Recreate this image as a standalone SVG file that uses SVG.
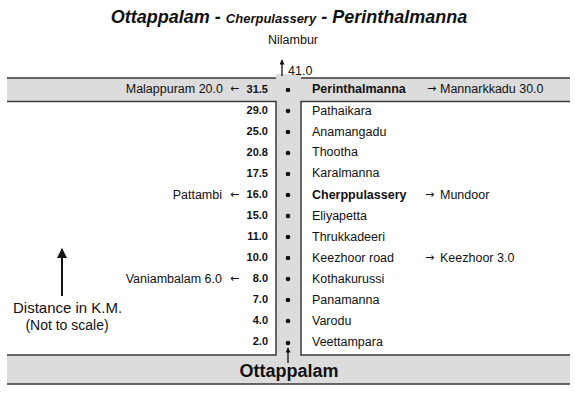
<svg xmlns="http://www.w3.org/2000/svg" width="575" height="398" viewBox="0 0 575 398">
<defs>
<style>
text{font-family:"Liberation Sans",Arial,sans-serif;fill:#111}
.t{font-size:18px;font-weight:bold;font-style:italic}
.ts{font-size:13px;font-weight:bold;font-style:italic}
.km{font-size:11px;font-weight:bold;text-anchor:end}
.nm{font-size:12.5px}
.b{font-weight:bold}
.ar{font-size:11px;font-family:"DejaVu Sans",sans-serif}
.band{fill:#dcdcdc}
.ln{stroke:#3a3a3a;stroke-width:1.5;fill:none}
.dot{fill:#111}
</style>
<marker id="ah" viewBox="0 0 10 10" refX="9" refY="5" markerWidth="6" markerHeight="5" orient="auto" markerUnits="userSpaceOnUse">
<path d="M0,0 L10,5 L0,10 Z" fill="#111"/>
</marker>
<marker id="ahb" viewBox="0 0 10 10" refX="9" refY="5" markerWidth="12" markerHeight="10" orient="auto" markerUnits="userSpaceOnUse">
<path d="M0,0 L10,5 L0,10 Z" fill="#111"/>
</marker>
</defs>
<rect width="575" height="398" fill="#fff"/>
<text x="289" y="23" text-anchor="middle"><tspan class="t">Ottappalam - </tspan><tspan class="ts">Cherpulassery</tspan><tspan class="t"> - Perinthalmanna</tspan></text>
<text class="nm" x="293" y="44" text-anchor="middle">Nilambur</text>
<g id="road">
<rect class="band" x="7" y="78" width="563" height="23"/>
<rect class="band" x="276" y="74" width="25" height="282"/>
<rect class="band" x="7" y="355" width="563" height="29"/>
<path class="ln" d="M7,78 H276 M301,78 H570 M7,101.5 H276 V355 H7 M570,101.5 H301 V355 H570 M7,384 H570"/>
</g>
<g id="connectors">
<line x1="282" y1="76" x2="282" y2="60" stroke="#111" stroke-width="1.3" marker-end="url(#ah)"/>
<line x1="288" y1="363" x2="288" y2="348" stroke="#111" stroke-width="1.3" marker-end="url(#ah)"/>
<line x1="62" y1="296" x2="62" y2="249" stroke="#111" stroke-width="2" marker-end="url(#ahb)"/>
</g>
<text class="nm" x="288" y="75">41.0</text>
<g id="n-perinthalmanna"><text class="km" x="268" y="93">31.5</text><circle class="dot" cx="288" cy="90" r="2.3"/><text class="nm b" x="312" y="93">Perinthalmanna</text><text class="ar" x="427" y="92">→</text><text class="nm" x="440" y="93">Mannarkkadu 30.0</text><text class="nm" x="223" y="93" text-anchor="end">Malappuram 20.0</text><text class="ar" x="230" y="92">←</text></g>
<g id="n-pathaikara"><text class="km" x="268" y="114">29.0</text><circle class="dot" cx="288" cy="111" r="2.3"/><text class="nm" x="312" y="115">Pathaikara</text></g>
<g id="n-anamangadu"><text class="km" x="268" y="135">25.0</text><circle class="dot" cx="288" cy="132" r="2.3"/><text class="nm" x="312" y="136">Anamangadu</text></g>
<g id="n-thootha"><text class="km" x="268" y="156">20.8</text><circle class="dot" cx="288" cy="153" r="2.3"/><text class="nm" x="312" y="156">Thootha</text></g>
<g id="n-karalmanna"><text class="km" x="268" y="177">17.5</text><circle class="dot" cx="288" cy="174" r="2.3"/><text class="nm" x="312" y="177">Karalmanna</text></g>
<g id="n-cherppulassery"><text class="km" x="268" y="198">16.0</text><circle class="dot" cx="288" cy="195" r="2.3"/><text class="nm b" x="312" y="199">Cherppulassery</text><text class="ar" x="425" y="198">→</text><text class="nm" x="440" y="199">Mundoor</text><text class="nm" x="222" y="199" text-anchor="end">Pattambi</text><text class="ar" x="230" y="198">←</text></g>
<g id="n-eliyapetta"><text class="km" x="268" y="219">15.0</text><circle class="dot" cx="288" cy="216" r="2.3"/><text class="nm" x="312" y="220">Eliyapetta</text></g>
<g id="n-thrukkadeeri"><text class="km" x="268" y="240">11.0</text><circle class="dot" cx="288" cy="237" r="2.3"/><text class="nm" x="312" y="241">Thrukkadeeri</text></g>
<g id="n-keezhoor"><text class="km" x="268" y="261">10.0</text><circle class="dot" cx="288" cy="258" r="2.3"/><text class="nm" x="312" y="262">Keezhoor road</text><text class="ar" x="425" y="261">→</text><text class="nm" x="440" y="262">Keezhoor 3.0</text></g>
<g id="n-kothakurussi"><text class="km" x="268" y="282">8.0</text><circle class="dot" cx="288" cy="279" r="2.3"/><text class="nm" x="312" y="283">Kothakurussi</text><text class="nm" x="222" y="283" text-anchor="end">Vaniambalam 6.0</text><text class="ar" x="230" y="282">←</text></g>
<g id="n-panamanna"><text class="km" x="268" y="303">7.0</text><circle class="dot" cx="288" cy="300" r="2.3"/><text class="nm" x="312" y="304">Panamanna</text></g>
<g id="n-varodu"><text class="km" x="268" y="324">4.0</text><circle class="dot" cx="288" cy="321" r="2.3"/><text class="nm" x="312" y="325">Varodu</text></g>
<g id="n-veettampara"><text class="km" x="268" y="345">2.0</text><circle class="dot" cx="288" cy="343" r="2.3"/><text class="nm" x="312" y="346">Veettampara</text></g>
<g id="n-ottappalam"><text x="289" y="377" text-anchor="middle" font-size="18" font-weight="bold">Ottappalam</text></g>
<g id="legend">
<text x="13" y="313" font-size="15">Distance in K.M.</text>
<text x="67" y="330" font-size="14" text-anchor="middle">(Not to scale)</text>
</g>
</svg>
